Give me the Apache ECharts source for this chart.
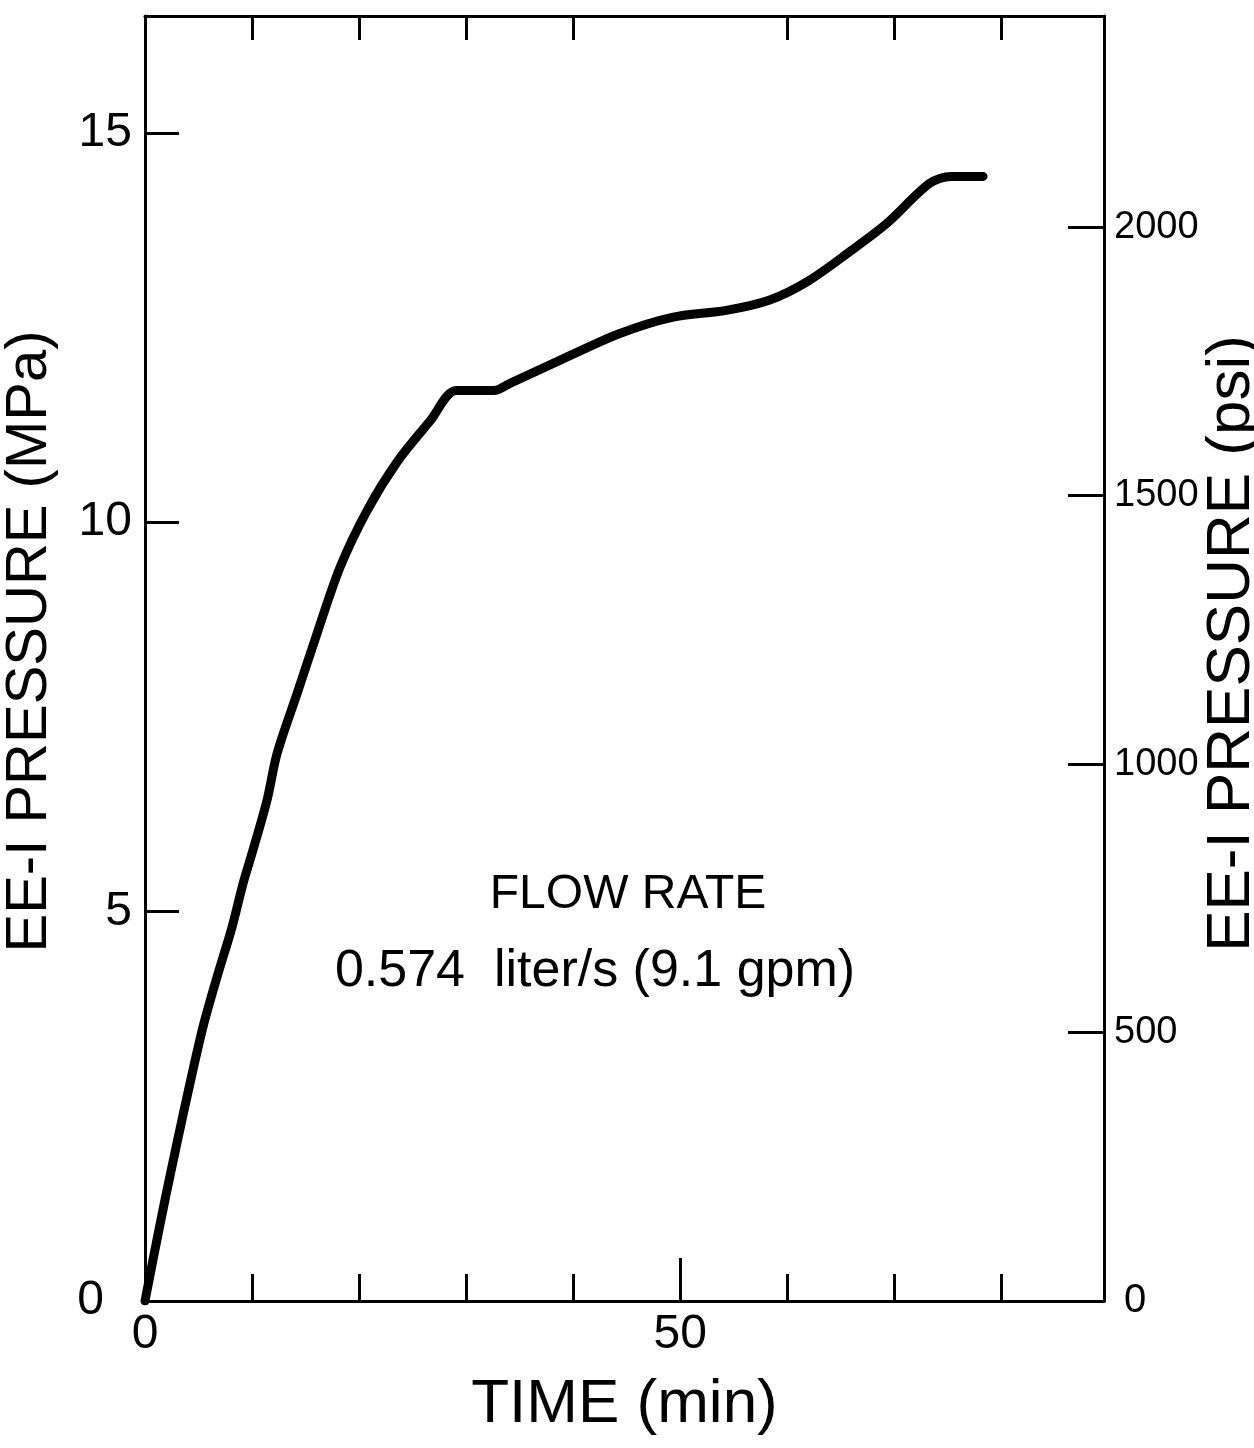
<!DOCTYPE html>
<html>
<head>
<meta charset="utf-8">
<script src="https://cdn.jsdelivr.net/npm/echarts@6/dist/echarts.min.js"></script>
<style>
html,body{margin:0;padding:0;background:#fff;}
#chart{width:1254px;height:1448px;}
</style>
</head>
<body>
<div id="chart"></div>
<script>
// ---- data ----
const timeMin = [0, 0.75, 1.87, 2.99, 4.21, 5.42, 6.73, 8.13, 9.16, 10.09, 11.4, 12.34, 14.21, 16.07, 18.22, 20.75, 23.64, 26.64, 29.07, 32.6, 34.2, 39.25, 44.3, 49.25, 54.3, 58.3, 62.0, 66.0, 69.25, 73.3, 75.3, 78.3];
const pressureMPa = [0, 0.53, 1.30, 2.03, 2.80, 3.52, 4.16, 4.80, 5.36, 5.79, 6.43, 7.03, 7.80, 8.57, 9.42, 10.15, 10.79, 11.30, 11.69, 11.69, 11.79, 12.11, 12.42, 12.63, 12.72, 12.85, 13.10, 13.49, 13.83, 14.35, 14.44, 14.44];
const xTickValues = [10, 20, 30, 40, 60, 70, 80];
const xLongTick = [50];
const xLabelValues = [0, 50];
const mpaTicks = [0, 5, 10, 15];
const psiTicks = [0, 500, 1000, 1500, 2000];
const xMax = 89.6;
const mpaMax = 16.5;
const MPA_PER_PSI = 0.00689476;
const annotationLine1 = 'FLOW RATE';
const annotationLine2 = '0.574  liter/s (9.1 gpm)';

const FONT = '"Liberation Sans", Arial, sans-serif';
const lineStyle = {color: '#000', width: 3};

const chart = echarts.init(document.getElementById('chart'), null, {renderer: 'canvas'});
const data = timeMin.map((t, i) => [t, pressureMPa[i]]);

chart.setOption({
  backgroundColor: '#fff',
  animation: false,
  grid: {left: 145, right: 150, top: 16, bottom: 147, containLabel: false, outerBoundsMode: 'none'},
  xAxis: [
    {
      type: 'value', position: 'bottom', min: 0, max: xMax, interval: 10,
      name: 'TIME (min)', nameLocation: 'middle', nameGap: 73, nameMoveOverlap: false,
      nameTextStyle: {fontFamily: FONT, fontSize: 62, color: '#000'},
      axisLine: {show: true, onZero: false, lineStyle: lineStyle},
      axisTick: {show: true, inside: true, length: 27, lineStyle: lineStyle, customValues: xTickValues},
      axisLabel: {show: true, customValues: xLabelValues, margin: 10, fontFamily: FONT, fontSize: 48, color: '#000'},
      splitLine: {show: false}
    },
    {
      type: 'value', position: 'bottom', min: 0, max: xMax, interval: 10,
      axisLine: {show: false, onZero: false},
      axisTick: {show: true, inside: true, length: 43, lineStyle: lineStyle, customValues: xLongTick},
      axisLabel: {show: false},
      splitLine: {show: false}
    },
    {
      type: 'value', position: 'top', min: 0, max: xMax, interval: 10,
      axisLine: {show: true, onZero: false, lineStyle: lineStyle},
      axisTick: {show: true, inside: true, length: 24, lineStyle: lineStyle, customValues: xTickValues},
      axisLabel: {show: false},
      splitLine: {show: false}
    }
  ],
  yAxis: [
    {
      type: 'value', position: 'left', min: 0, max: mpaMax, interval: 5,
      name: 'EE-I PRESSURE (MPa)', nameLocation: 'middle', nameGap: 86, nameRotate: 90, nameMoveOverlap: false,
      nameTextStyle: {fontFamily: FONT, fontSize: 58, color: '#000', padding: [0, 0, 0, 34]},
      axisLine: {show: true, onZero: false, lineStyle: lineStyle},
      axisTick: {show: true, inside: true, length: 34, lineStyle: lineStyle, customValues: mpaTicks},
      axisLabel: {
        show: true, customValues: mpaTicks, margin: 13, fontFamily: FONT, fontSize: 48, color: '#000',
        formatter: v => v === 0 ? '{z|0}' : String(v),
        rich: {z: {fontFamily: FONT, fontSize: 48, color: '#000', padding: [0, 28, 0, 0]}}
      },
      splitLine: {show: false}
    },
    {
      type: 'value', position: 'right', min: 0, max: mpaMax / MPA_PER_PSI,
      name: 'EE-I PRESSURE (psi)', nameLocation: 'middle', nameGap: 97, nameRotate: 90, nameMoveOverlap: false,
      nameTextStyle: {fontFamily: FONT, fontSize: 62, color: '#000', padding: [0, 0, 0, 30]},
      axisLine: {show: true, onZero: false, lineStyle: lineStyle},
      axisTick: {show: true, inside: true, length: 36, lineStyle: lineStyle, customValues: psiTicks},
      axisLabel: {
        show: true, customValues: psiTicks, margin: 10, fontFamily: FONT, fontSize: 38, color: '#000',
        formatter: v => v === 0 ? '{z|0}' : String(v),
        rich: {z: {fontFamily: FONT, fontSize: 40, color: '#000', padding: [0, 0, 0, 10]}}
      },
      splitLine: {show: false}
    }
  ],
  graphic: [
    {type: 'text', x: 628, y: 895, style: {text: annotationLine1, font: '48px ' + FONT, fill: '#000', align: 'center', verticalAlign: 'middle'}},
    {type: 'text', x: 595, y: 972, style: {text: annotationLine2, font: '52px ' + FONT, fill: '#000', align: 'center', verticalAlign: 'middle'}}
  ],
  series: [{
    type: 'line', xAxisIndex: 0, yAxisIndex: 0, data: data,
    showSymbol: false, smooth: 0.3,
    lineStyle: {color: '#000', width: 9, cap: 'round', join: 'round'},
    z: 5
  }]
});
</script>
</body>
</html>
